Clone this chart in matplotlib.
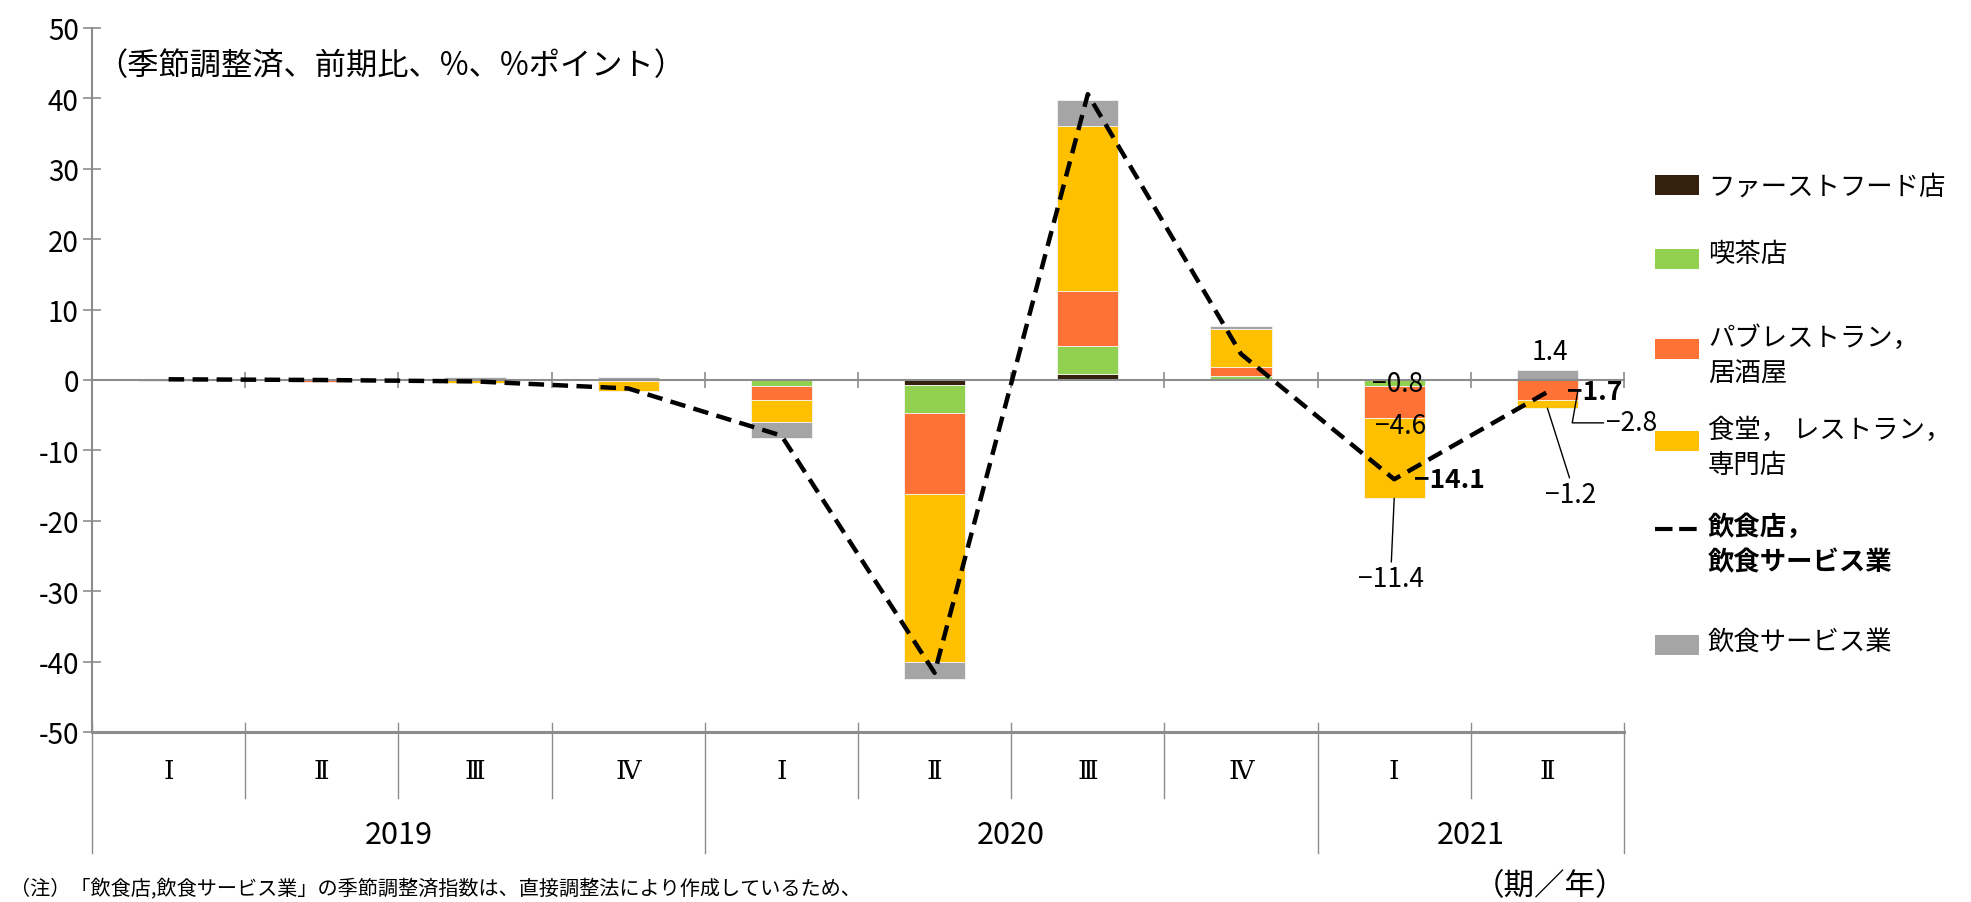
import matplotlib
matplotlib.use("Agg")
import matplotlib.pyplot as plt
from matplotlib import font_manager, transforms
from matplotlib.patches import Rectangle
from matplotlib.lines import Line2D
import numpy as np

# ---- data -------------------------------------------------------------
quarters = ["Ⅰ", "Ⅱ", "Ⅲ", "Ⅳ", "Ⅰ", "Ⅱ", "Ⅲ", "Ⅳ", "Ⅰ", "Ⅱ"]
years = ["2019", "2020", "2021"]
year_spans = [(0, 4), (4, 8), (8, 10)]

fast_food = [0.0, 0.0, 0.0, 0.0, 0.0, -0.7, 0.9, 0.0, 0.0, 0.0]
cafe = [0.0, 0.0, 0.0, 0.0, -0.8, -4.0, 3.9, 0.6, -0.8, 0.0]
pub = [-0.2, -0.3, 0.0, -0.1, -2.0, -11.5, 7.8, 1.3, -4.6, -2.8]
restaurant = [0.1, 0.0, -0.4, -1.4, -3.2, -23.8, 23.5, 5.3, -11.4, -1.2]
food_service = [0.0, 0.0, 0.4, 0.4, -2.2, -2.5, 3.7, 0.5, 0.0, 1.4]
total = [0.1, 0.0, -0.2, -1.2, -7.9, -41.6, 40.6, 3.7, -14.1, -1.7]

series_names = ["ファーストフード店", "喫茶店", "パブレストラン，\n居酒屋",
                "食堂， レストラン，\n専門店", "飲食サービス業"]
line_name = "飲食店，\n飲食サービス業"
series_colors = ["#33200D", "#92D050", "#FF7236", "#FFC000", "#A5A5A5"]
axis_gray = "#8C8C8C"

# ---- fonts ------------------------------------------------------------
plt.rcParams["font.family"] = ["Noto Sans CJK JP", "DejaVu Sans"]
plt.rcParams["axes.unicode_minus"] = False
installed = {f.name for f in font_manager.fontManager.ttflist}
NUM_FAMILY = ["Liberation Sans Narrow", "Noto Sans CJK JP"] if "Liberation Sans Narrow" in installed \
    else ["Noto Sans CJK JP", "DejaVu Sans"]
ROMAN_FAMILY = ["DejaVu Serif", "Noto Sans CJK JP"]

W, H = 1971, 903
fig = plt.figure(figsize=(W / 100, H / 100), dpi=100)
fig.patch.set_facecolor("white")


def fpx(x, y):
    """figure pixel -> figure fraction"""
    return x / W, 1 - y / H


ax = fig.add_axes([92 / W, 1 - 733 / H, (1624 - 92) / W, (733 - 29) / H])
ax.set_xlim(0, 10)
ax.set_ylim(-50, 50)

x = np.arange(len(quarters)) + 0.5
bar_w = 0.4

# ---- stacked bars: positives stack up, negatives stack down ------------
pos = np.zeros(len(x))
neg = np.zeros(len(x))
stack_bottoms = []
for vals, col in zip([fast_food, cafe, pub, restaurant, food_service], series_colors):
    v = np.array(vals)
    bottom = np.where(v >= 0, pos, neg)
    stack_bottoms.append(bottom.copy())
    ax.bar(x, v, bar_w, bottom=bottom, color=col, edgecolor="#F4F4F4",
           linewidth=0.6, zorder=3)
    pos += np.clip(v, 0, None)
    neg += np.clip(v, None, 0)

# ---- total line -------------------------------------------------------
dash = (0, (3.5, 1.9))
ax.plot(x, total, color="black", lw=3.2, linestyle=dash, zorder=6)

# ---- axes styling -----------------------------------------------------
for side in ["top", "right"]:
    ax.spines[side].set_visible(False)
ax.spines["left"].set_color(axis_gray)
ax.spines["left"].set_linewidth(1.5)
ax.spines["bottom"].set_position(("data", 0))
ax.spines["bottom"].set_color(axis_gray)
ax.spines["bottom"].set_linewidth(1.5)
ax.spines["bottom"].set_zorder(4)

ax.set_yticks(np.arange(-50, 51, 10))
ax.tick_params(axis="y", direction="inout", length=13, width=1.2, color=axis_gray,
               pad=3, labelsize=20)
for lab in ax.get_yticklabels():
    lab.set_family(NUM_FAMILY)
ax.set_xticks(np.arange(0, 11))
ax.tick_params(axis="x", direction="inout", length=11, width=1.2, color=axis_gray,
               labelbottom=False)

# line at the bottom of the plot area
ax.axhline(-50, color=axis_gray, lw=2.2, clip_on=False, zorder=2)

# ---- multi-level category labels below the plot ----------------------
bt = transforms.blended_transform_factory(ax.transData, fig.transFigure)
y_top = fpx(0, 724)[1]
y_q = fpx(0, 799)[1]
y_y = fpx(0, 854)[1]
year_edges = {s for span in year_spans for s in span}
for b in range(0, 11):
    y_end = y_y if b in year_edges else y_q
    fig.add_artist(Line2D([b, b], [y_top, y_end], transform=bt, color=axis_gray,
                          lw=1.0, clip_on=False))
for xi, q in zip(x, quarters):
    fig.text(xi, fpx(0, 772)[1], q, transform=bt, ha="center", va="center",
             fontsize=19, family=ROMAN_FAMILY)
for yr, (a, b) in zip(years, year_spans):
    fig.text((a + b) / 2, fpx(0, 836)[1], yr, transform=bt, ha="center", va="center",
             fontsize=22, family=NUM_FAMILY)

# ---- unit note --------------------------------------------------------
ax.text(0.03, 44.8, "（季節調整済、前期比、%、%ポイント）", ha="left", va="center",
        fontsize=22.5)

# ---- data labels ------------------------------------------------------
lab_fs = 19
q1, q2 = 8, 9
green_bot = stack_bottoms[1][q1] + cafe[q1]
pub_bot = stack_bottoms[2][q1] + pub[q1]
rest_bot = stack_bottoms[3][q1] + restaurant[q1]
ax.annotate(f"−{abs(cafe[q1]):.1f}", xy=(x[q1], green_bot), xytext=(3, 2),
            textcoords="offset pixels", ha="center", va="center", fontsize=lab_fs, zorder=7)
ax.annotate(f"−{abs(pub[q1]):.1f}", xy=(x[q1], pub_bot), xytext=(6, -7),
            textcoords="offset pixels", ha="center", va="center", fontsize=lab_fs, zorder=7)
ax.annotate(f"−{abs(restaurant[q1]):.1f}", xy=(x[q1], rest_bot), xytext=(-3, -80),
            textcoords="offset pixels", ha="center", va="center", fontsize=lab_fs,
            arrowprops=dict(arrowstyle="-", color="black", lw=1.0, shrinkA=0, shrinkB=0,
                            relpos=(0.5, 1.0)))
ax.annotate(f"−{abs(total[q1]):.1f}", xy=(x[q1], total[q1]), xytext=(20, 0),
            textcoords="offset pixels", ha="left", va="center", fontsize=lab_fs,
            fontweight="bold", zorder=7)

gray_top = stack_bottoms[4][q2] + food_service[q2]
ax.annotate(f"{food_service[q2]:.1f}", xy=(x[q2], gray_top), xytext=(3, 19),
            textcoords="offset pixels", ha="center", va="center", fontsize=lab_fs)
ax.annotate(f"−{abs(total[q2]):.1f}", xy=(x[q2], total[q2]), xytext=(20, 0),
            textcoords="offset pixels", ha="left", va="center", fontsize=lab_fs,
            fontweight="bold", zorder=7)
pub_mid = stack_bottoms[2][q2] + pub[q2] / 2
ax.annotate(f"−{abs(pub[q2]):.1f}", xy=(x[q2] + bar_w / 2, pub_mid), xytext=(54, -33),
            textcoords="offset pixels", ha="center", va="center", fontsize=lab_fs,
            arrowprops=dict(arrowstyle="-", color="black", lw=1.0, shrinkA=0, shrinkB=0,
                            relpos=(0.0, 0.5),
                            connectionstyle="angle,angleA=0,angleB=80,rad=0"))
rest_bot2 = stack_bottoms[3][q2] + restaurant[q2]
ax.annotate(f"−{abs(restaurant[q2]):.1f}", xy=(x[q2], rest_bot2), xytext=(23, -86),
            textcoords="offset pixels", ha="center", va="center", fontsize=lab_fs,
            arrowprops=dict(arrowstyle="-", color="black", lw=1.0, shrinkA=0, shrinkB=0,
                            relpos=(0.5, 1.0)))

# ---- legend -----------------------------------------------------------
legend_rows = [
    ("patch", series_colors[0], series_names[0], 186, False),
    ("patch", series_colors[1], series_names[1], 260, False),
    ("patch", series_colors[2], series_names[2], 350, False),
    ("patch", series_colors[3], series_names[3], 442, False),
    ("line", "black", line_name, 530, True),
    ("patch", series_colors[4], series_names[4], 646, False),
]
text_offsets = {186: 1, 260: -5, 350: 6, 442: 6, 530: 15, 646: -4}
for kind, col, name, yc, bold in legend_rows:
    if kind == "patch":
        x0, y0 = fpx(1655, yc + 10)
        fig.add_artist(Rectangle((x0, y0), 44 / W, 20 / H, transform=fig.transFigure,
                                 facecolor=col, edgecolor="none"))
    else:
        xa, ya = fpx(1655, yc)
        xb, _ = fpx(1698, yc)
        fig.add_artist(Line2D([xa, xb], [ya, ya], transform=fig.transFigure, color=col,
                              lw=3, linestyle=(0, (4.2, 1.6))))
    tx, ty = fpx(1708, yc + text_offsets[yc])
    fig.text(tx, ty, name, ha="left", va="center", fontsize=19, linespacing=1.4,
             fontweight="bold" if bold else "normal")

# ---- notes ------------------------------------------------------------
fig.text(*fpx(1626, 887), "（期／年）", ha="right", va="center", fontsize=22)
fig.text(*fpx(10, 890),
         "（注）「飲食店,飲食サービス業」の季節調整済指数は、直接調整法により作成しているため、",
         ha="left", va="center", fontsize=14.5)

fig.savefig("out.png", dpi=100, facecolor="white")
